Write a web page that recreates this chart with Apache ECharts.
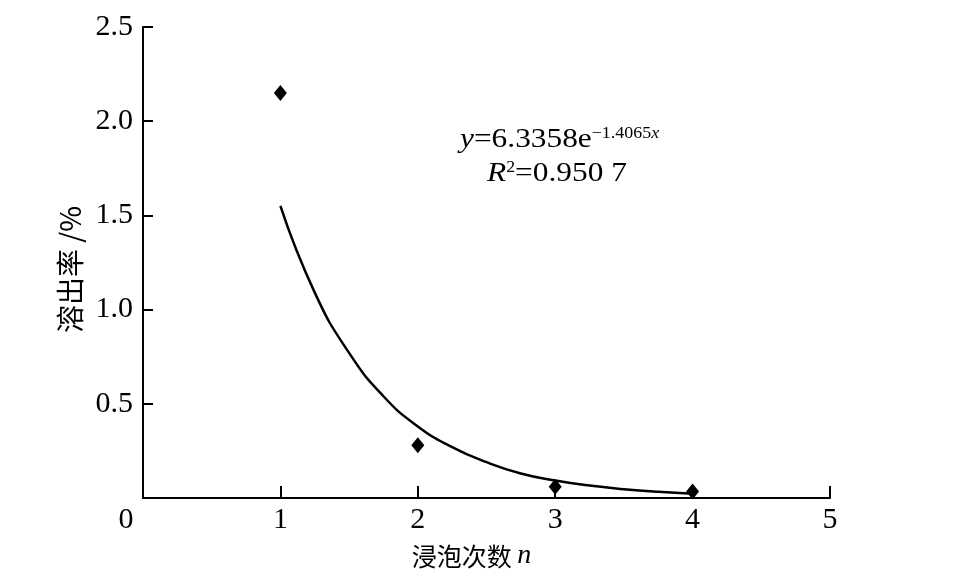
<!DOCTYPE html>
<html><head><meta charset="utf-8">
<script src="https://cdn.jsdelivr.net/npm/echarts@6/dist/echarts.min.js"></script>
<style>html,body{margin:0;padding:0;background:#fff}#c{width:959px;height:577px}</style>
</head><body><div id="c"></div>
<script>
// measured points
const pointX = [1, 2, 3, 4];
const pointY = [2.15, 0.28, 0.06, 0.035];
// fitted curve
const curveX = [1, 1.25, 1.5, 1.75, 2, 2.25, 2.5, 2.75, 3, 3.25, 3.5, 3.75, 4];
const curveY = [1.55, 1.09, 0.77, 0.54, 0.38, 0.27, 0.19, 0.13, 0.093, 0.066, 0.047, 0.033, 0.023];
const xTicks = [0, 1, 2, 3, 4, 5];
const yTicks = [0.5, 1.0, 1.5, 2.0, 2.5];

const serif = '"Liberation Serif","DejaVu Serif",serif';
const cjk = '"Noto Sans CJK SC","Liberation Serif",serif';
const chart = echarts.init(document.getElementById('c'));
chart.setOption({
  animation: false,
  backgroundColor: '#fff',
  grid: {left: 143, right: 129, top: 27, bottom: 79, containLabel: false},
  xAxis: {
    type: 'value', min: 0, max: 5, interval: 1,
    axisLine: {show: true, lineStyle: {color: '#000', width: 2}},
    axisTick: {show: true, inside: true, length: 12, lineStyle: {color: '#000', width: 2}},
    splitLine: {show: false},
    axisLabel: {
      color: '#000', fontFamily: serif, fontSize: 30, margin: 7,
      formatter: v => v === 0 ? '{z|0}' : String(v),
      rich: {z: {fontFamily: serif, fontSize: 30, color: '#000', padding: [0, 34, 0, 0]}}
    },
    name: '浸泡次数 {i|n}', nameLocation: 'middle', nameGap: 44,
    nameTextStyle: {color: '#000', fontFamily: cjk, fontSize: 25, padding: [0, 30, 0, 0],
      rich: {i: {fontFamily: serif, fontStyle: 'italic', fontSize: 28, color: '#000'}}}
  },
  yAxis: {
    type: 'value', min: 0, max: 2.5, interval: 0.5,
    axisLine: {show: true, lineStyle: {color: '#000', width: 2}},
    axisTick: {show: true, inside: true, length: 10, lineStyle: {color: '#000', width: 2}},
    splitLine: {show: false},
    axisLabel: {
      color: '#000', fontFamily: serif, fontSize: 30, margin: 10,
      formatter: v => yTicks.some(t => Math.abs(t - v) < 1e-9) ? v.toFixed(1) : ''
    },
    name: '溶出率 /%', nameLocation: 'middle', nameGap: 56, nameRotate: 90,
    nameTextStyle: {color: '#000', fontFamily: cjk, fontSize: 28, padding: [0, 14, 0, 0]}
  },
  series: [
    {
      type: 'line', data: curveX.map((x, i) => [x, curveY[i]]),
      smooth: true, showSymbol: false, symbol: 'none',
      lineStyle: {color: '#000', width: 2.5}, z: 2
    },
    {
      type: 'scatter', data: pointX.map((x, i) => [x, pointY[i]]),
      symbol: 'diamond', symbolSize: [13, 16],
      itemStyle: {color: '#000', opacity: 1}, z: 3
    }
  ],
  graphic: [
    {
      type: 'text', left: 460, top: 126, scaleX: 1.12,
      style: {
        text: '{i|y}{n|=6.3358e}{s|−1.4065}{si|x}',
        rich: {
          i: {fontFamily: serif, fontStyle: 'italic', fontSize: 28, fill: '#000', verticalAlign: 'bottom'},
          n: {fontFamily: serif, fontSize: 28, fill: '#000', verticalAlign: 'bottom'},
          s: {fontFamily: serif, fontSize: 16, fill: '#000', verticalAlign: 'top'},
          si: {fontFamily: serif, fontStyle: 'italic', fontSize: 16, fill: '#000', verticalAlign: 'top'}
        }
      }
    },
    {
      type: 'text', left: 487, top: 160, scaleX: 1.12,
      style: {
        text: '{i|R}{s|2}{n|=0.950 7}',
        rich: {
          i: {fontFamily: serif, fontStyle: 'italic', fontSize: 28, fill: '#000', verticalAlign: 'bottom'},
          n: {fontFamily: serif, fontSize: 28, fill: '#000', verticalAlign: 'bottom'},
          s: {fontFamily: serif, fontSize: 16, fill: '#000', verticalAlign: 'top'}
        }
      }
    }
  ]
});
</script></body></html>
